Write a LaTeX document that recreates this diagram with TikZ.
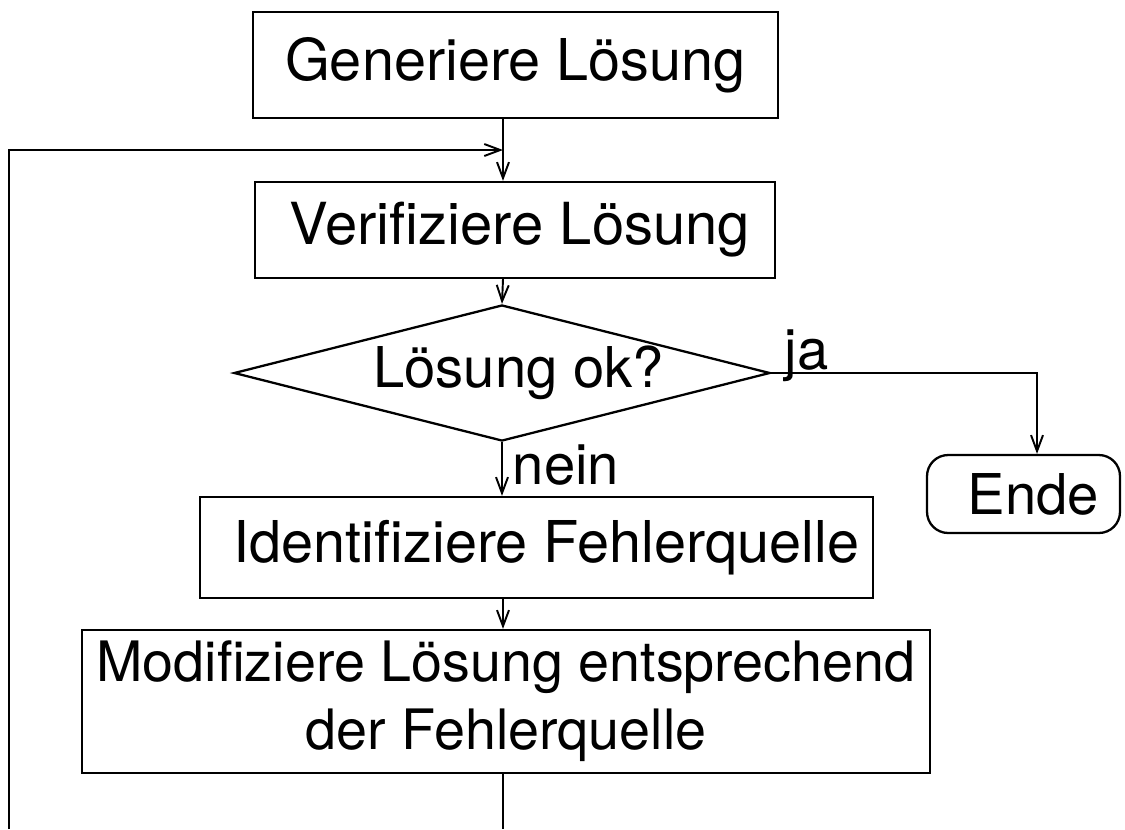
\documentclass[tikz,border=0pt]{standalone}
\usepackage{fontspec}
\setmainfont{TeX Gyre Heros}
\usetikzlibrary{arrows.meta,shapes.geometric}
\newcommand{\txtsize}[1]{\fontsize{#1}{1.22\dimexpr#1pt\relax}\selectfont}
\begin{document}
\begin{tikzpicture}[x=0.02cm,y=-0.02cm,
  line width=1.1pt,
  txt/.style={font=\txtsize{32}},
  box/.style={draw, rectangle, inner sep=0pt, line width=1.3pt, txt},
  decision/.style={draw, diamond, shape aspect=3.94, inner sep=0pt, line width=1.3pt, txt},
  terminal/.style={draw, rectangle, rounded corners=12pt, inner sep=0pt, line width=1.3pt, txt},
  lbl/.style={txt, inner sep=0pt},
  flow/.style={-{Straight Barb[length=0.32cm,width=0.24cm]}},
]
\useasboundingbox (0,0) rectangle (1125,829);

% process steps
\node[box, font=\txtsize{32.8}, minimum width=10.5cm, minimum height=2.12cm] (gen) at (515.5,65) {Generiere Lösung};
\node[box, font=\txtsize{33}, minimum width=10.4cm, minimum height=1.92cm] (ver) at (515,230) {\hspace*{0.2cm}Verifiziere Lösung};
\node[decision, minimum width=10.56cm, minimum height=2.68cm] (dec) at (502,373) {\hspace*{0.66cm}Lösung ok?};
\node[box, font=\txtsize{32.8}, minimum width=13.46cm, minimum height=2.02cm] (ide) at (536.5,547.5) {\hspace*{0.4cm}Identifiziere Fehlerquelle};
\node[box, font=\txtsize{31.7}, minimum width=16.96cm, minimum height=2.86cm, align=center] (mod) at (506,701.5)
  {Modifiziere Lösung entsprechend\\der Fehlerquelle};
\node[terminal, minimum width=3.86cm, minimum height=1.56cm] (ende) at (1023.5,494) {\hspace*{0.4cm}Ende};

% helper points of the main axis and the loop
\coordinate (axis) at (503,0);
\coordinate (join) at (503,150);
\coordinate (jx) at (1037,0);
\coordinate (loopL) at (9,829);
\coordinate (loopB) at (503,829);

% connectors
\draw[flow] (gen.south -| axis) -- (ver.north -| axis);
\draw[flow] (loopL) |- (join);
\draw[flow] (ver.south -| axis) -- (dec.north);
\draw[flow] (dec.east) -| (ende.north -| jx);
\draw[flow] (dec.south) -- (ide.north -| dec.south);
\draw[flow] (ide.south -| axis) -- (mod.north -| axis);
\draw (mod.south -| axis) -- (loopB);

% branch labels
\node[lbl, anchor=base west] (ja) at (784,369) {ja};
\node[lbl, anchor=base west] (nein) at (512,484) {nein};
\end{tikzpicture}
\end{document}
